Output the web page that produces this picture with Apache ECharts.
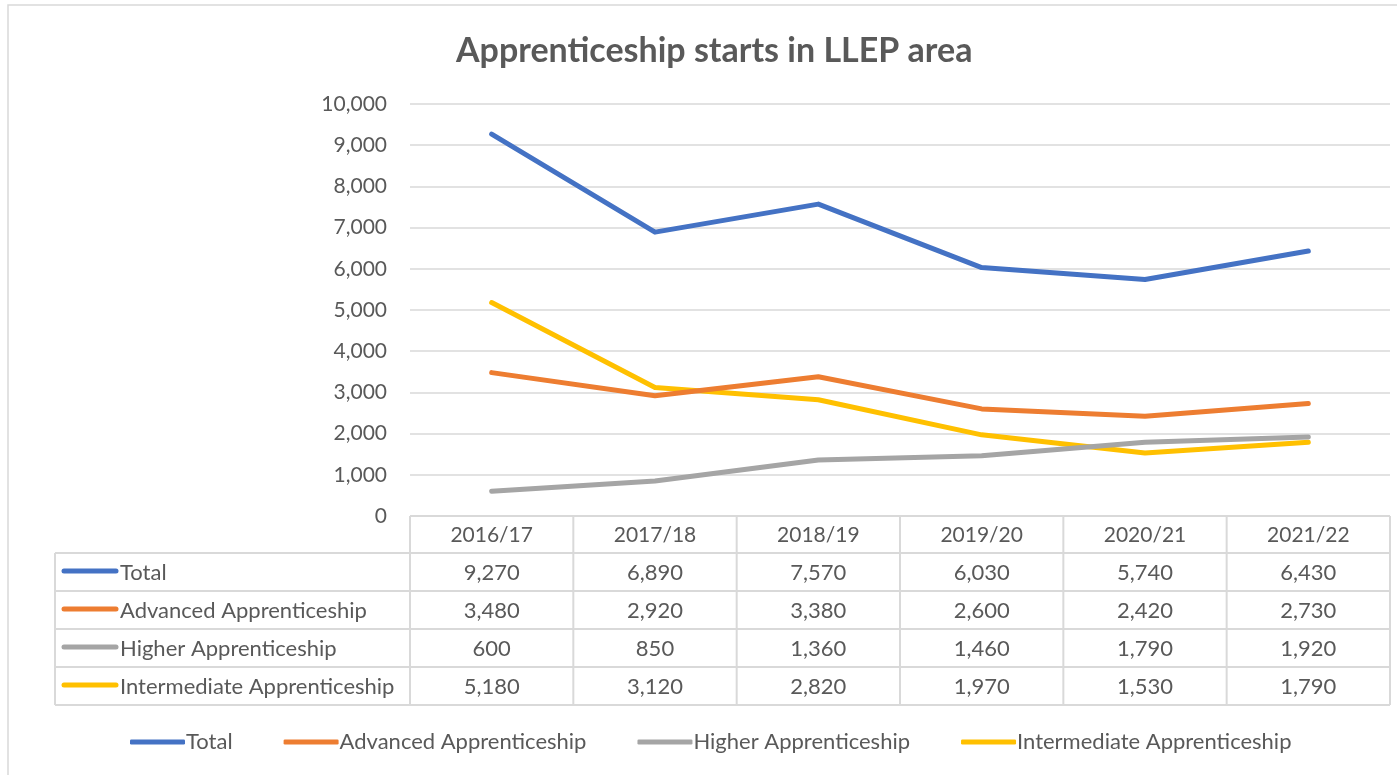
<!DOCTYPE html>
<html>
<head>
<meta charset="utf-8">
<script src="https://cdn.jsdelivr.net/npm/echarts@6/dist/echarts.min.js"></script>
<style>
  html, body { margin: 0; padding: 0; background: #fff; }
  #chart { width: 1397px; height: 775px; }
</style>
</head>
<body>
<div id="chart"></div>
<script>
var categories = ["2016/17", "2017/18", "2018/19", "2019/20", "2020/21", "2021/22"];
var seriesNames = ["Total", "Advanced Apprenticeship", "Higher Apprenticeship", "Intermediate Apprenticeship"];
var total = [9270, 6890, 7570, 6030, 5740, 6430];
var advanced = [3480, 2920, 3380, 2600, 2420, 2730];
var higher = [600, 850, 1360, 1460, 1790, 1920];
var intermediate = [5180, 3120, 2820, 1970, 1530, 1790];
var colors = ["#4472C4", "#ED7D31", "#A5A5A5", "#FFC000"];

var allData = [total, advanced, higher, intermediate];
var font = "Lato";
var textColor = "#595959";
var borderColor = "#d9d9d9";

var myChart = echarts.init(document.getElementById("chart"));

function fmt(v) {
  return v.toLocaleString("en-US");
}

var option = {
  animation: false,
  textStyle: { fontFamily: font },
  title: {
    text: "Apprenticeship starts in LLEP area",
    left: 451,
    top: 29,
    textStyle: { fontFamily: font, fontSize: 34, fontWeight: "bold", color: textColor },
  },
  grid: { left: 410, right: 7, top: 104, bottom: 259 },
  legend: {
    left: 125,
    top: 726,
    itemWidth: 55,
    itemHeight: 5,
    itemGap: 51,
    icon: "roundRect",
    textStyle: { fontFamily: font, fontSize: 22, color: textColor, padding: [0, 0, 0, -4] },
    data: seriesNames,
  },
  xAxis: {
    type: "category",
    data: categories,
    boundaryGap: true,
    axisLine: { show: false },
    axisTick: { show: false },
    axisLabel: { show: false },
  },
  yAxis: {
    type: "value",
    min: 0,
    max: 10000,
    interval: 1000,
    axisLine: { show: false },
    axisTick: { show: false },
    axisLabel: {
      margin: 23,
      fontFamily: font,
      fontSize: 21,
      color: textColor,
      formatter: function (v) {
        return fmt(v);
      },
    },
    splitLine: { lineStyle: { color: borderColor, width: 1.5 } },
  },
  series: seriesNames.map(function (name, i) {
    return {
      name: name,
      type: "line",
      data: allData[i],
      symbol: "none",
      lineStyle: { color: colors[i], width: 5, cap: "round", join: "round" },
      itemStyle: { color: colors[i] },
      z: 10 - i,
    };
  }),
};
myChart.setOption(option);

// data table under the plot
function buildTable() {
  var c0 = myChart.convertToPixel({ xAxisIndex: 0 }, categories[0]);
  var c1 = myChart.convertToPixel({ xAxisIndex: 0 }, categories[1]);
  var step = c1 - c0;
  var xLeft = c0 - step / 2;
  var xRight = xLeft + step * categories.length;
  var yTop = myChart.convertToPixel({ yAxisIndex: 0 }, 0);
  var headH = 37;
  var rowH = 38;
  var labelLeft = 55;
  var yBottom = yTop + headH + rowH * seriesNames.length;
  var lineStyle = { stroke: borderColor, lineWidth: 2 };
  var els = [];

  // outer chart border
  els.push({
    type: "rect",
    shape: { x: 8, y: 5, width: 1400, height: 800 },
    style: { fill: "none", stroke: borderColor, lineWidth: 1.5 },
  });

  // horizontal lines
  els.push({ type: "line", shape: { x1: xLeft, y1: yTop, x2: xRight, y2: yTop }, style: lineStyle });
  for (var r = 0; r <= seriesNames.length; r++) {
    var y = yTop + headH + rowH * r;
    els.push({ type: "line", shape: { x1: labelLeft, y1: y, x2: xRight, y2: y }, style: lineStyle });
  }
  // vertical lines
  els.push({ type: "line", shape: { x1: labelLeft, y1: yTop + headH, x2: labelLeft, y2: yBottom }, style: lineStyle });
  for (var c = 0; c <= categories.length; c++) {
    var x = xLeft + step * c;
    els.push({ type: "line", shape: { x1: x, y1: yTop, x2: x, y2: yBottom }, style: lineStyle });
  }
  // header
  categories.forEach(function (cat, j) {
    els.push({
      type: "text",
      style: {
        text: cat, x: xLeft + step * (j + 0.5), y: yTop + headH / 2 + 1,
        align: "center", verticalAlign: "middle",
        font: "21px " + font, fill: textColor,
      },
    });
  });
  // rows
  seriesNames.forEach(function (name, i) {
    var cy = yTop + headH + rowH * (i + 0.5) + 1;
    els.push({
      type: "line",
      shape: { x1: 64, y1: cy - 2, x2: 116, y2: cy - 2 },
      style: { stroke: colors[i], lineWidth: 5, lineCap: "round" },
    });
    els.push({
      type: "text",
      style: {
        text: name, x: 120, y: cy,
        align: "left", verticalAlign: "middle",
        font: "22px " + font, fill: textColor,
      },
    });
    allData[i].forEach(function (v, j) {
      els.push({
        type: "text",
        style: {
          text: fmt(v), x: xLeft + step * (j + 0.5), y: cy,
          align: "center", verticalAlign: "middle",
          font: "22px " + font, fill: textColor,
        },
      });
    });
  });
  myChart.setOption({ graphic: els });
}
buildTable();
</script>
</body>
</html>
